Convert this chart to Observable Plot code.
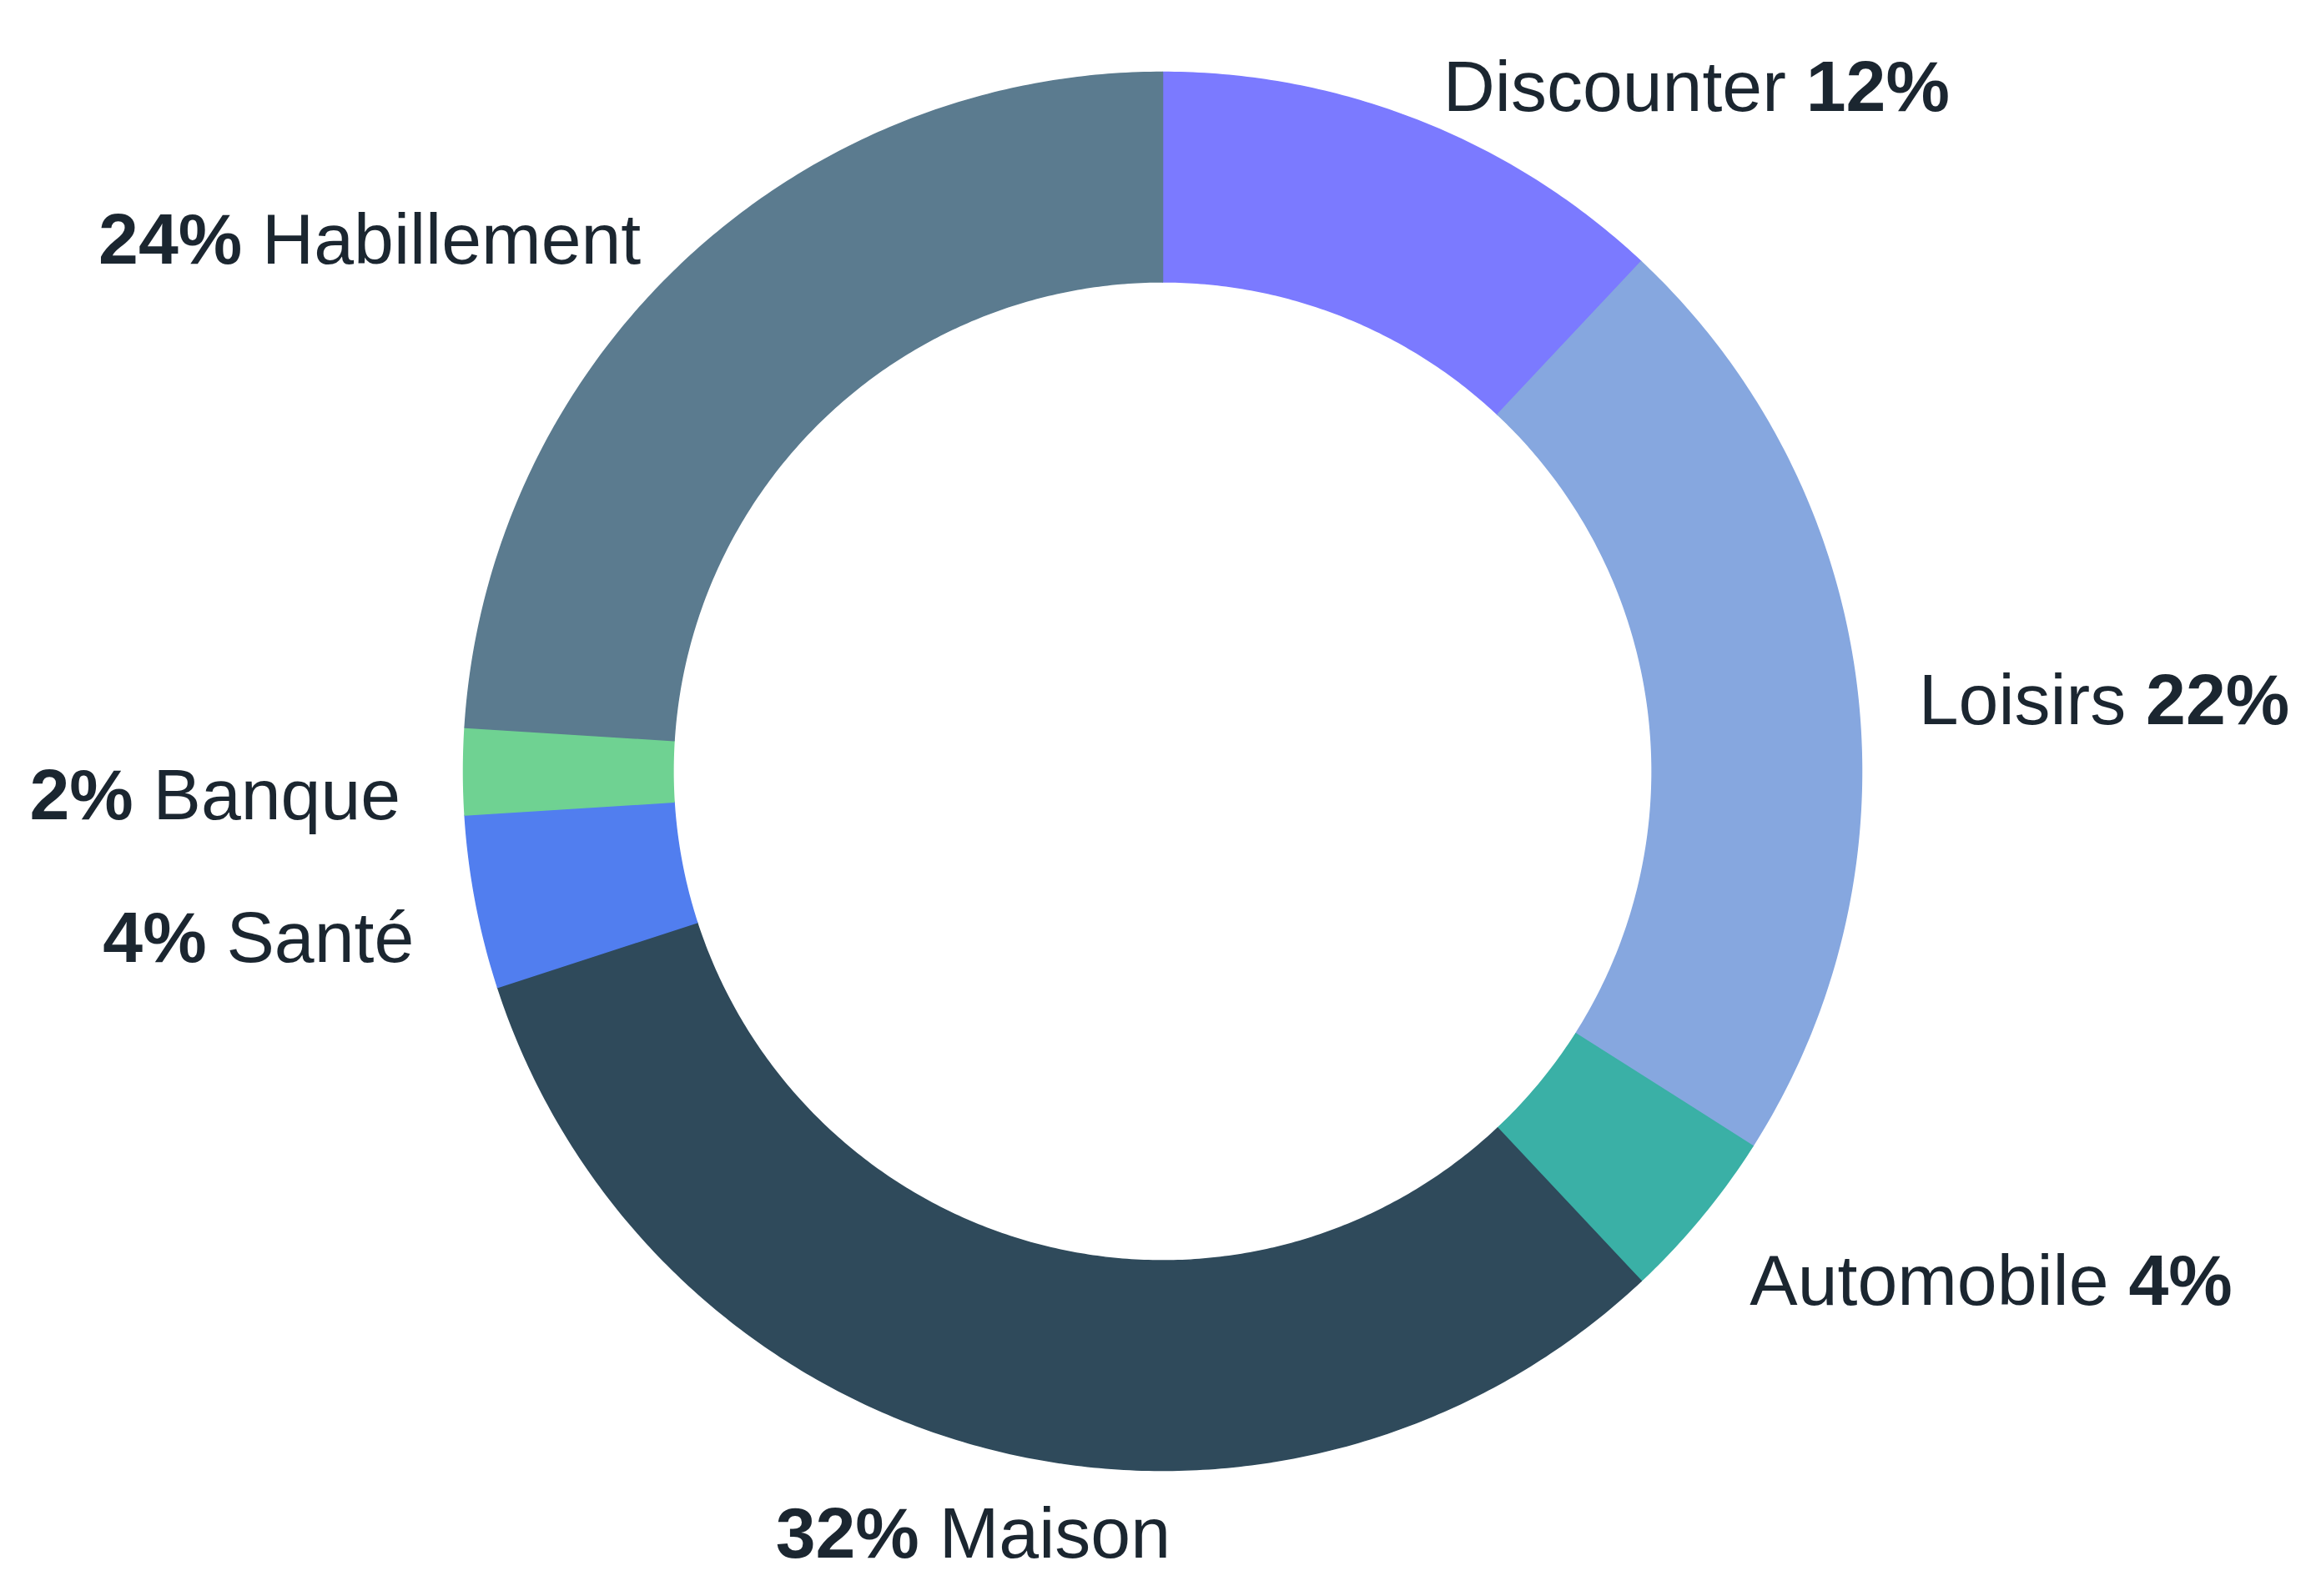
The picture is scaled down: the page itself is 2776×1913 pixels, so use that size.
<!DOCTYPE html>
<html>
<head>
<meta charset="utf-8">
<script src="https://cdn.jsdelivr.net/npm/d3@7"></script>
<script src="https://cdn.jsdelivr.net/npm/@observablehq/plot@0.6"></script>
<style>
  html, body { margin: 0; padding: 0; background: #ffffff; }
  #chart svg { display: block; }
</style>
</head>
<body>
<div id="chart"></div>
<script>
// ---- data (clockwise from 12 o'clock) ----
const categories = ["Discounter", "Loisirs", "Automobile", "Maison", "Santé", "Banque", "Habillement"];
const values = [12, 22, 4, 32, 4, 2, 24];
const colors = ["#7B7AFF", "#86A7DF", "#3AB0A6", "#2F4A5B", "#517EEF", "#6FD292", "#5B7B8F"];

// ---- layout ----
const W = 2776, H = 1913;
const CX = 1393, CY = 924, R = 838;   // pixel centre and outer radius
const INNER = 0.70;                    // inner radius / outer radius
const LABEL_R = 1.09;                  // label radius / outer radius
const FONT = 86;

const total = d3.sum(values);
let acc = 0;
const slices = categories.map((c, i) => {
  const s = acc / total;
  acc += values[i];
  const e = acc / total;
  return {category: c, value: values[i], color: colors[i], s, e, mid: (s + e) / 2};
});

// polygon points of each ring segment, derived from the values
const ringPts = [];
for (const sl of slices) {
  const n = Math.max(8, Math.ceil((sl.e - sl.s) * 720));
  for (let k = 0; k <= n; k++) {
    const a = 2 * Math.PI * (sl.s + (sl.e - sl.s) * k / n);
    ringPts.push({category: sl.category, color: sl.color, x: Math.sin(a), y: Math.cos(a)});
  }
  for (let k = n; k >= 0; k--) {
    const a = 2 * Math.PI * (sl.s + (sl.e - sl.s) * k / n);
    ringPts.push({category: sl.category, color: sl.color, x: INNER * Math.sin(a), y: INNER * Math.cos(a)});
  }
}

// labels at mid-angle
const labels = slices.map(sl => {
  const a = 2 * Math.PI * sl.mid;
  const sx = Math.sin(a);
  const side = sx > 0.3 ? "start" : sx < -0.3 ? "end" : "middle";
  const text = side === "start" ? `${sl.category} ${sl.value}%` : `${sl.value}% ${sl.category}`;
  return {x: LABEL_R * sx, y: LABEL_R * Math.cos(a), side, text};
});

const textOpts = {
  x: "x", y: "y", text: "text",
  fontSize: FONT, fill: "#1b2630",
  fontFamily: "'Liberation Sans', Arial, sans-serif",
  lineAnchor: "middle", dy: 30
};

const chart = Plot.plot({
  width: W, height: H,
  margin: 0,
  x: {domain: [-CX / R, (W - CX) / R], axis: null},
  y: {domain: [-(H - CY) / R, CY / R], axis: null},
  color: {type: "identity"},
  style: {background: "#ffffff"},
  marks: [
    Plot.line(ringPts, {x: "x", y: "y", z: "category", fill: "color", stroke: "color", strokeWidth: 1.5, curve: "linear-closed"}),
    Plot.text(labels.filter(d => d.side === "start"), {...textOpts, textAnchor: "start"}),
    Plot.text(labels.filter(d => d.side === "end"), {...textOpts, textAnchor: "end"}),
    Plot.text(labels.filter(d => d.side === "middle"), {...textOpts, textAnchor: "middle"})
  ]
});

// bold the percentages inside each label
d3.select(chart).selectAll('g[aria-label="text"] text').each(function () {
  const t = d3.select(this);
  const str = t.text();
  t.text(null);
  for (const part of str.split(/(\d+%)/)) {
    if (!part) continue;
    const ts = t.append("tspan").text(part);
    if (/^\d+%$/.test(part)) ts.attr("font-weight", 700);
  }
});

document.getElementById("chart").appendChild(chart);
</script>
</body>
</html>
